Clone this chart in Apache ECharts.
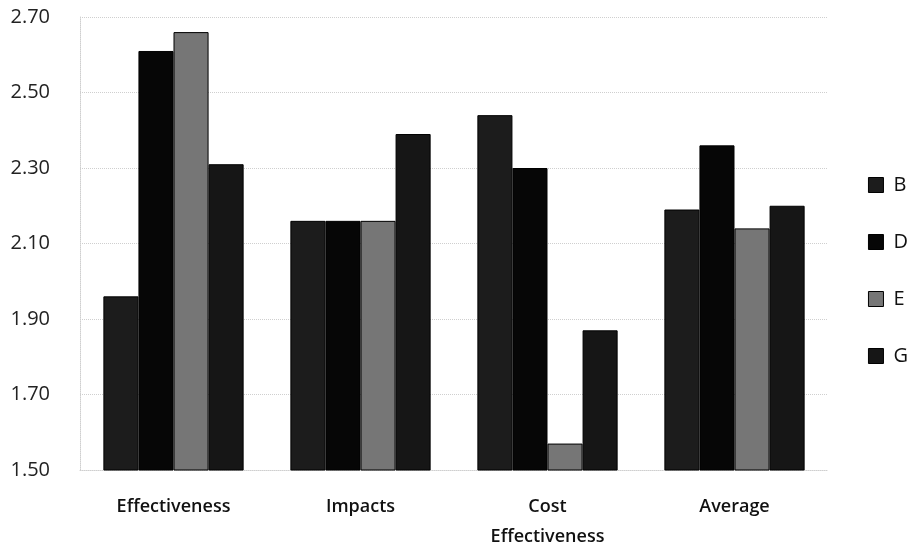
<!DOCTYPE html>
<html>
<head>
<meta charset="utf-8">
<script src="https://cdn.jsdelivr.net/npm/echarts@6/dist/echarts.min.js"></script>
<style>
html,body{margin:0;padding:0;background:#fff;}
#chart{width:917px;height:552px;}
</style>
</head>
<body>
<div id="chart"></div>
<script>
const categories = ['Effectiveness', 'Impacts', 'Cost\nEffectiveness', 'Average'];
const seriesNames = ['B', 'D', 'E', 'G'];
const valuesB = [1.96, 2.16, 2.44, 2.19];
const valuesD = [2.61, 2.16, 2.30, 2.36];
const valuesE = [2.66, 2.16, 1.57, 2.14];
const valuesG = [2.31, 2.39, 1.87, 2.20];
const yTicks = { min: 1.5, max: 2.7, interval: 0.2 };

const allValues = [valuesB, valuesD, valuesE, valuesG];
const baseColors = ['#1c1c1c', '#060606', '#767676', '#161616'];

const chart = echarts.init(document.getElementById('chart'));

const series = seriesNames.map((name, i) => ({
  name: name,
  type: 'bar',
  data: allValues[i],
  barGap: '0%',
  barCategoryGap: '25%',
  itemStyle: {
    color: baseColors[i],
    borderColor: '#000',
    borderWidth: 1
  }
}));

chart.setOption({
  animation: false,
  backgroundColor: '#fff',
  textStyle: { fontFamily: 'Open Sans, Noto Sans, sans-serif' },
  grid: { left: 80, right: 89, top: 17, bottom: 82, containLabel: false },
  legend: {
    orient: 'vertical',
    right: 4,
    top: 170,
    itemWidth: 15,
    itemHeight: 15,
    itemGap: 37,
    data: seriesNames.map((n, i) => ({
      name: n,
      icon: 'rect',
      itemStyle: { color: baseColors[i], borderColor: '#000', borderWidth: 1 }
    })),
    textStyle: { fontSize: 20, lineHeight: 20, color: '#111', padding: [0, 0, 0, 5] }
  },
  xAxis: {
    type: 'category',
    data: categories,
    axisLine: { show: true, lineStyle: { color: '#cfcfcf', type: 'dotted' } },
    axisTick: { show: false },
    axisLabel: {
      color: '#111',
      fontSize: 18,
      fontWeight: 600,
      margin: 22,
      lineHeight: 30,
      interval: 0
    }
  },
  yAxis: {
    type: 'value',
    min: yTicks.min,
    max: yTicks.max,
    interval: yTicks.interval,
    axisLine: { show: true, lineStyle: { color: '#cfcfcf', type: 'dotted' } },
    axisTick: { show: false },
    splitLine: { show: true, lineStyle: { color: '#cfcfcf', type: 'dotted' } },
    axisLabel: {
      color: '#222',
      fontSize: 20,
      margin: 30,
      formatter: v => v.toFixed(2)
    }
  },
  series: series
});
</script>
</body>
</html>
